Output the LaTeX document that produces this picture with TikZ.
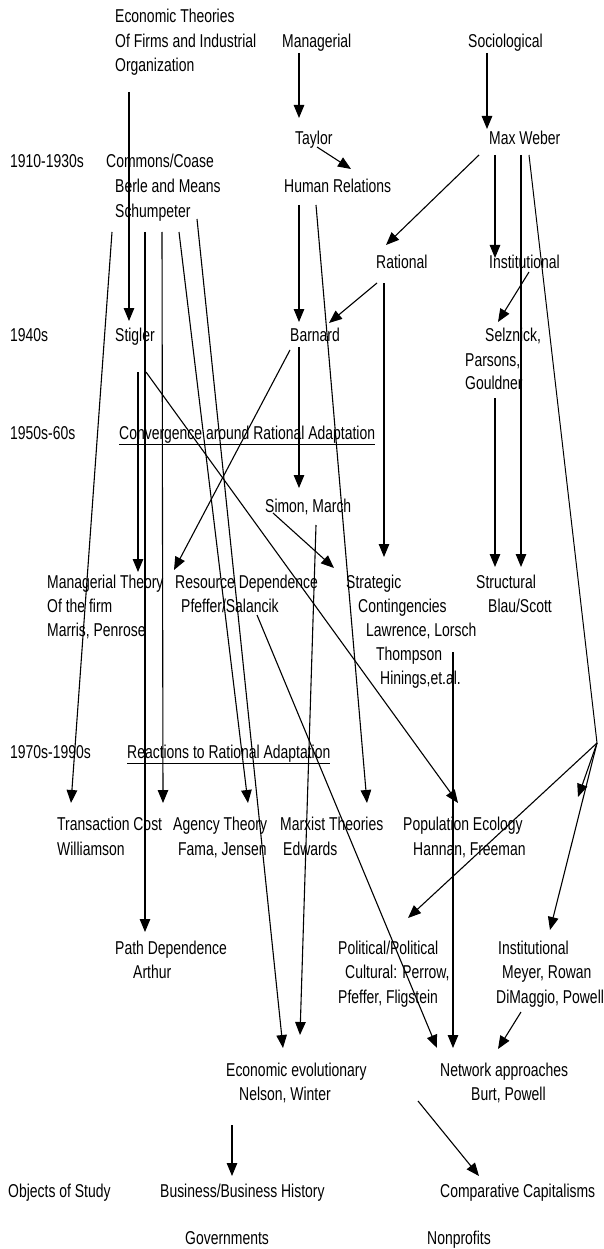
\documentclass[tikz,border=0pt]{standalone}
\usepackage{fontspec}
\setmainfont{Liberation Sans}[FakeStretch=0.75]
\usetikzlibrary{arrows.meta}
\begin{document}
\begin{tikzpicture}[x=1pt,y=-1pt,
  lbl/.style={anchor=base west, inner sep=0pt, font=\fontsize{18.6}{24}\selectfont},
  arr/.style={line width=1.1pt, -{Triangle[length=13pt,width=10.5pt]}},
  ln/.style={line width=1pt}]
\useasboundingbox[fill=white] (0,0) rectangle (603,1249);
% ---------- texts ----------
\node[lbl] (econA) at (115,23) {Economic Theories};
\node[lbl] (econB) at (115,48) {Of Firms and Industrial};
\node[lbl] (econC) at (115,72) {Organization};
\node[lbl] (mgr) at (282,48) {Managerial};
\node[lbl] (soc) at (468,48) {Sociological};
\node[lbl] (taylor) at (295,145) {Taylor};
\node[lbl] (weber) at (489,145) {Max Weber};
\node[lbl] (p1910) at (10,168) {1910-1930s};
\node[lbl] (commons) at (106,168) {Commons/Coase};
\node[lbl] (berle) at (115,193) {Berle and Means};
\node[lbl] (hr) at (284,193) {Human Relations};
\node[lbl] (schump) at (115,218) {Schumpeter};
\node[lbl] (rational) at (376,268) {Rational};
\node[lbl] (instA) at (489,268) {Institutional};
\node[lbl] (p1940) at (10,341) {1940s};
\node[lbl] (stigler) at (115,341) {Stigler};
\node[lbl] (barnard) at (290,341) {Barnard};
\node[lbl] (selzA) at (485,341) {Selznick,};
\node[lbl] (selzB) at (465,366) {Parsons,};
\node[lbl] (selzC) at (465,389) {Gouldner};
\node[lbl] (p1950) at (10,439) {1950s-60s};
\node[lbl] (conv) at (119,439) {\underline{Convergence around Rational Adaptation}};
\node[lbl] (simon) at (265,512) {Simon, March};
\node[lbl] (mtA) at (47,588) {Managerial Theory};
\node[lbl] (mtB) at (47,612) {Of the firm};
\node[lbl] (mtC) at (47,636) {Marris, Penrose};
\node[lbl] (rdA) at (175,588) {Resource Dependence};
\node[lbl] (rdB) at (181,612) {Pfeffer/Salancik};
\node[lbl] (scA) at (346,588) {Strategic};
\node[lbl] (scB) at (358,612) {Contingencies};
\node[lbl] (scC) at (366,636) {Lawrence, Lorsch};
\node[lbl] (scD) at (376,660) {Thompson};
\node[lbl] (scE) at (380,684) {Hinings,et.al.};
\node[lbl] (stA) at (476,588) {Structural};
\node[lbl] (stB) at (488,612) {Blau/Scott};
\node[lbl] (p1970) at (10,758) {1970s-1990s};
\node[lbl] (react) at (127,758) {\underline{Reactions to Rational Adaptation}};
\node[lbl] (tcA) at (57,830) {Transaction Cost};
\node[lbl] (tcB) at (57,855) {Williamson};
\node[lbl] (agA) at (173,830) {Agency Theory};
\node[lbl] (agB) at (178,855) {Fama, Jensen};
\node[lbl] (mxA) at (280,830) {Marxist Theories};
\node[lbl] (mxB) at (283,855) {Edwards};
\node[lbl] (peA) at (403,830) {Population Ecology};
\node[lbl] (peB) at (413,855) {Hannan, Freeman};
\node[lbl] (pdA) at (115,954) {Path Dependence};
\node[lbl] (pdB) at (133,978) {Arthur};
\node[lbl] (plA) at (338,954) {Political/Political};
\node[lbl] (plB) at (345,978) {Cultural: Perrow,};
\node[lbl] (plC) at (338,1003) {Pfeffer, Fligstein};
\node[lbl] (inA) at (498,954) {Institutional};
\node[lbl] (inB) at (502,978) {Meyer, Rowan};
\node[lbl] (inC) at (496,1003) {DiMaggio, Powell};
\node[lbl] (eeA) at (226,1076) {Economic evolutionary};
\node[lbl] (eeB) at (239,1100) {Nelson, Winter};
\node[lbl] (naA) at (440,1076) {Network approaches};
\node[lbl] (naB) at (471,1100) {Burt, Powell};
\node[lbl] (obj) at (8,1197) {Objects of Study};
\node[lbl] (bus) at (160,1197) {Business/Business History};
\node[lbl] (comp) at (440,1197) {Comparative Capitalisms};
\node[lbl] (gov) at (185,1244) {Governments};
\node[lbl] (nonp) at (427,1244) {Nonprofits};
% ---------- connector end points ----------
\coordinate (mgrS) at (299,53);   \coordinate (taylorN) at (299,118);
\coordinate (socS) at (487,53);   \coordinate (weberN) at (487,129);
\coordinate (taylorSE) at (317,147); \coordinate (hrNE) at (351,169);
\coordinate (econS) at (129,92);  \coordinate (stiglerN) at (129,321);
\coordinate (weberSW) at (479,155); \coordinate (rationalNW) at (386,245);
\coordinate (weberS1) at (495,155); \coordinate (instAN) at (495,258);
\coordinate (weberS2) at (521,155); \coordinate (stAN2) at (521,567);
\coordinate (weberS3) at (529,155); \coordinate (hub) at (597,743);
\coordinate (plAN) at (408,918);  \coordinate (hubArr) at (578,797);
\coordinate (inAN) at (550,930);
\coordinate (rationalSW) at (377,283); \coordinate (barnardNE) at (329,323);
\coordinate (rationalS) at (384,283);  \coordinate (scAN) at (384,557);
\coordinate (instASW) at (529,272); \coordinate (selzAN) at (498,322);
\coordinate (selzCS) at (495,398); \coordinate (stAN1) at (495,567);
\coordinate (hrS) at (299,205); \coordinate (barnardN) at (299,322);
\coordinate (hrSE) at (316,205); \coordinate (mxAN) at (367,803);
\coordinate (barnardS) at (299,347); \coordinate (simonN) at (299,488);
\coordinate (barnardSW) at (290,350); \coordinate (rdAN) at (174,570);
\coordinate (simonSW) at (273,513); \coordinate (scANW) at (334,568);
\coordinate (simonS) at (316,525); \coordinate (eeAN2) at (300,1035);
\coordinate (schS1) at (112,232); \coordinate (tcAN) at (71,803);
\coordinate (schS2) at (145,232); \coordinate (pdAN) at (145,932);
\coordinate (schS3) at (162,232); \coordinate (agAN) at (163,803);
\coordinate (schS4) at (179,232); \coordinate (agANE) at (248,803);
\coordinate (schS5) at (197,219); \coordinate (eeAN1) at (283,1048);
\coordinate (stiglerS) at (138,372); \coordinate (mtAN) at (138,572);
\coordinate (stiglerSE) at (146,372); \coordinate (peAN) at (458,803);
\coordinate (rdBS) at (257,615); \coordinate (naAN1) at (437,1048);
\coordinate (scDS) at (453,652); \coordinate (naAN2) at (453,1048);
\coordinate (inCS) at (521,1012); \coordinate (naAN3) at (498,1049);
\coordinate (naSW) at (418,1101); \coordinate (compN) at (479,1176);
\coordinate (eeS) at (232,1125); \coordinate (busN) at (232,1176);
% ---------- connectors ----------
\draw[arr] (mgrS) -- (taylorN);
\draw[arr] (socS) -- (weberN);
\draw[arr] (taylorSE) -- (hrNE);
\draw[arr] (econS) -- (stiglerN);
\draw[arr] (weberSW) -- (rationalNW);
\draw[arr] (weberS1) -- (instAN);
\draw[arr] (weberS2) -- (stAN2);
\draw[ln] (weberS3) -- (hub);
\draw[arr] (hub) -- (plAN);
\draw[arr] (hub) -- (hubArr);
\draw[arr] (hub) -- (inAN);
\draw[arr] (rationalSW) -- (barnardNE);
\draw[arr] (rationalS) -- (scAN);
\draw[arr] (instASW) -- (selzAN);
\draw[arr] (selzCS) -- (stAN1);
\draw[arr] (hrS) -- (barnardN);
\draw[arr] (hrSE) -- (mxAN);
\draw[arr] (barnardS) -- (simonN);
\draw[arr] (barnardSW) -- (rdAN);
\draw[arr] (simonSW) -- (scANW);
\draw[arr] (simonS) -- (eeAN2);
\draw[arr] (schS1) -- (tcAN);
\draw[arr] (schS2) -- (pdAN);
\draw[arr] (schS3) -- (agAN);
\draw[arr] (schS4) -- (agANE);
\draw[arr] (schS5) -- (eeAN1);
\draw[arr] (stiglerS) -- (mtAN);
\draw[arr] (stiglerSE) -- (peAN);
\draw[arr] (rdBS) -- (naAN1);
\draw[arr] (scDS) -- (naAN2);
\draw[arr] (inCS) -- (naAN3);
\draw[arr] (naSW) -- (compN);
\draw[arr] (eeS) -- (busN);
\end{tikzpicture}
\end{document}
